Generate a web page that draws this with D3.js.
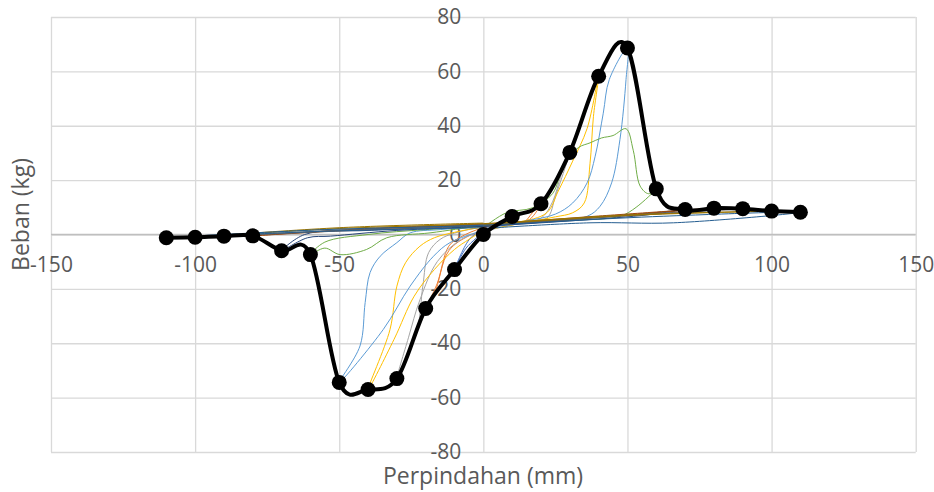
<!DOCTYPE html>
<html>
<head>
<meta charset="utf-8">
<script src="https://cdn.jsdelivr.net/npm/d3@7"></script>
<style>
body { margin: 0; background: #fff; }
text { font-family: "Open Sans", sans-serif; }
</style>
</head>
<body>
<div id="cont"></div>
<script>

// Data //

var xTicks = [-150, -100, -50, 0, 50, 100, 150];
var yTicks = [-80, -60, -40, -20, 0, 20, 40, 60, 80];

// backbone (black line with markers)
var envX = [-110, -100, -90, -80, -70, -60, -50, -40, -30, -20, -10, 0, 10, 20, 30, 40, 50, 60, 70, 80, 90, 100, 110];
var envY = [-1.2, -1, -0.6, -0.5, -6, -7.4, -54.4, -57, -53, -27.2, -12.9, 0, 6.6, 11.3, 30.2, 58.2, 68.6, 16.8, 9.2, 9.7, 9.5, 8.6, 8.2];

// hysteresis cycles, [displacement, load]
var cyc10 = [[0,0],[4,3],[10,6.6],[6,4],[0,2.2],[-5,-2],[-10,-12.9],[-6,-5],[0,0.8]];
var cyc20 = [[0,0.8],[8,4],[14,4.5],[17,8],[20,11.3],[16,5.5],[10,4],[0,2.5],[-8,-1],[-12,-4.3],[-16,-18],[-20,-27.2],[-17,-22],[-12,-6],[-5,-0.5],[0,1.2]];
var cyc30 = [[0,1.2],[12,4],[20,6],[24,12],[27,22],[30,30.2],[25,14],[22,6],[12,4.2],[0,2.8],[-10,0.5],[-15,-1.8],[-19,-6.7],[-21,-19],[-23,-35],[-30,-53],[-26,-38],[-22,-24],[-16,-10],[-8,-2],[0,1.5]];
var cyc40 = [[0,1.5],[15,4.5],[25,6.5],[31,8],[35,11.6],[37,26],[38.2,43.5],[40,58.2],[36,39],[31,27],[26,16],[22,8],[12,4.5],[0,2.8],[-10,0.8],[-17,-1.2],[-22,-4.3],[-27,-10.4],[-30,-19],[-32.4,-35],[-40,-57],[-31,-38.6],[-24,-22.7],[-17,-12.9],[-10,-5.5],[-5,-1.8],[0,1.5]];
var cyc50 = [[0,2],[15,5],[25,7.5],[31,11.6],[36,19],[38.8,28.8],[41.6,44.6],[43.7,57],[50,68.6],[49.5,57],[47.4,35],[44.5,19],[40.5,10.4],[36,6.7],[20,4.5],[0,3],[-15,1.8],[-25.4,0.6],[-30,-3],[-35.8,-8],[-39.3,-14],[-41,-25],[-42.8,-41],[-50,-54.4],[-34.7,-34.9],[-25.4,-19],[-17.3,-8],[-11.6,-3],[0,1.5]];
var cyc60 = [[0,2.5],[8,8],[17,9.8],[24,15],[28,26],[33,32],[37,33.7],[41,35.5],[45,36.4],[49.5,38.9],[52,31],[54.4,17.8],[57.3,15],[60,16.8],[53,10],[47.4,6.7],[30,5.2],[0,3.2],[-18.5,0.6],[-33.5,-1.2],[-40.5,-5.5],[-49.7,-7.4],[-55,-5],[-60,-7.4],[-55,-2.8],[-40,0],[-20,1.8],[0,3]];
var cyc70 = [[0,3],[30,5.5],[55,7.5],[70,9.2],[55,7],[30,5],[0,3],[-30,1.5],[-53,-0.6],[-61,-1.2],[-70,-6],[-62,0],[-40,1.5],[0,3.2]];
var cyc80 = [[0,3.2],[40,6.5],[80,9.7],[40,6.8],[0,3.8],[-40,2],[-80,-0.5],[-40,2.2],[0,3.8]];
var cyc90 = [[0,3.5],[45,6.8],[90,9.5],[45,6.5],[0,3.4],[-45,1.5],[-90,-0.6],[-45,1.8],[0,3.6]];
var cyc100 = [[0,3.6],[50,7],[100,8.6],[50,7.2],[0,4],[-50,2.2],[-100,-1],[-50,2.5],[0,4.2]];
var cyc110 = [[0,2.2],[37,4.3],[66,4.3],[110,8.2],[55,6.4],[0,3.4],[-55,1.8],[-110,-1.2],[-55,1.2],[0,2.5]];

var cycles = [cyc10, cyc20, cyc30, cyc40, cyc50, cyc60, cyc70, cyc80, cyc90, cyc100, cyc110];
var palette = ["#4472C4", "#ED7D31", "#A5A5A5", "#FFC000", "#5B9BD5", "#70AD47",
               "#264478", "#9E480E", "#636363", "#997300", "#255E91"];

// SVG Stuff //

var root = d3.select("body").select("#cont");
var svg = root.append("svg").attr("width", 934).attr("height", 492);

var x = d3.scaleLinear().domain([-150, 150]).range([51, 915.7]);
var y = d3.scaleLinear().domain([-80, 80]).range([452, 17]);

var plain = function(d) { return String(d); };   // hyphen minus, like excel

// gridlines
var gridX = svg.append("g")
	.attr("transform", "translate(0," + y(-80) + ")")
	.call(d3.axisBottom(x).tickValues(xTicks).tickSize(-(y(-80) - y(80))).tickFormat(""));
gridX.select(".domain").remove();
gridX.selectAll("line").attr("stroke", "#d9d9d9").attr("stroke-width", 1.3);

var gridY = svg.append("g")
	.attr("transform", "translate(" + x(-150) + ",0)")
	.call(d3.axisLeft(y).tickValues(yTicks).tickSize(-(x(150) - x(-150))).tickFormat(""));
gridY.select(".domain").remove();
gridY.selectAll("line").attr("stroke", "#d9d9d9").attr("stroke-width", 1.3);

// horizontal axis line
svg.append("line")
	.attr("x1", x(-150)).attr("x2", x(150))
	.attr("y1", y(0)).attr("y2", y(0))
	.attr("stroke", "#bfbfbf").attr("stroke-width", 1.3);

// tick labels, both axes cross at 0
var axX = svg.append("g")
	.attr("transform", "translate(0," + y(0) + ")")
	.call(d3.axisBottom(x).tickValues(xTicks).tickFormat(plain).tickSize(0).tickPadding(23));
axX.select(".domain").remove();
axX.attr("font-family", "Open Sans").attr("font-size", 21);
axX.selectAll("text").attr("fill", "#595959");

var axY = svg.append("g")
	.attr("transform", "translate(" + x(0) + ",0)")
	.call(d3.axisLeft(y).tickValues(yTicks).tickFormat(plain).tickSize(0).tickPadding(22));
axY.select(".domain").remove();
axY.attr("font-family", "Open Sans").attr("font-size", 21);
axY.selectAll("text").attr("fill", "#595959");

// axis titles
svg.append("text")
	.attr("x", 483).attr("y", 484)
	.attr("text-anchor", "middle")
	.attr("font-size", 23).attr("fill", "#595959")
	.text("Perpindahan (mm)");

svg.append("text")
	.attr("transform", "translate(29,214.5) rotate(-90)")
	.attr("text-anchor", "middle")
	.attr("font-size", 23).attr("fill", "#595959")
	.text("Beban (kg)");

// thin cycle lines
var thin = d3.line()
	.x(function(d) { return x(d[0]); })
	.y(function(d) { return y(d[1]); })
	.curve(d3.curveCatmullRom.alpha(0.5));

svg.append("g").selectAll("path")
	.data(cycles)
	.enter().append("path")
	.attr("d", thin)
	.attr("fill", "none")
	.attr("stroke", function(d, i) { return palette[i]; })
	.attr("stroke-width", 1);

// backbone
var env = envX.map(function(v, i) { return [v, envY[i]]; });

var thick = d3.line()
	.x(function(d) { return x(d[0]); })
	.y(function(d) { return y(d[1]); })
	.curve(d3.curveCardinal.tension(0));

svg.append("path")
	.attr("d", thick(env))
	.attr("fill", "none")
	.attr("stroke", "#000")
	.attr("stroke-width", 4)
	.attr("stroke-linejoin", "round");

svg.append("g").selectAll("circle")
	.data(env)
	.enter().append("circle")
	.attr("cx", function(d) { return x(d[0]); })
	.attr("cy", function(d) { return y(d[1]); })
	.attr("r", 7.5)
	.attr("fill", "#000");

</script>
</body>
</html>
